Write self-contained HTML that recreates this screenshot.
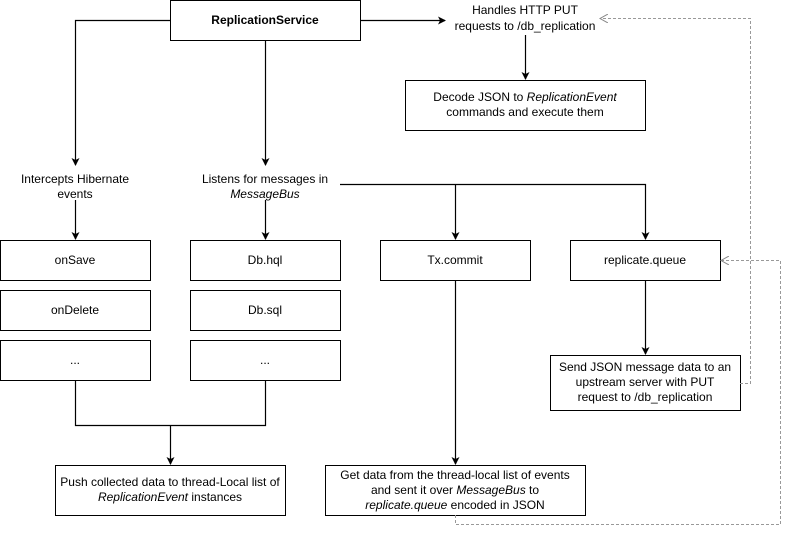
<!DOCTYPE html>
<html><head><style>
body{margin:0;background:#fff;}
svg{display:block;font-family:"Liberation Sans",sans-serif;font-size:12px;}
</style></head><body>
<svg width="790" height="537" viewBox="0 0 790 537">
<defs>
<marker id="a" markerWidth="8" markerHeight="8" refX="7" refY="4" orient="auto" markerUnits="userSpaceOnUse"><path d="M0,0 L8,4 L0,8 L2,4 Z" fill="#000"/></marker>
<marker id="d" markerWidth="9" markerHeight="9" refX="8" refY="4.5" orient="auto" markerUnits="userSpaceOnUse"><path d="M0,0 L8,4.5 L0,9" fill="none" stroke="#888"/></marker>
</defs>
<g fill="#fff" stroke="#000" stroke-width="1">
<rect x="170.5" y="0.5" width="190" height="40"/>
<rect x="405.5" y="80.5" width="240" height="50"/>
<rect x="0.5" y="240.5" width="150" height="40"/>
<rect x="0.5" y="290.5" width="150" height="40"/>
<rect x="0.5" y="340.5" width="150" height="40"/>
<rect x="190.5" y="240.5" width="150" height="40"/>
<rect x="190.5" y="290.5" width="150" height="40"/>
<rect x="190.5" y="340.5" width="150" height="40"/>
<rect x="380.5" y="240.5" width="150" height="40"/>
<rect x="570.5" y="240.5" width="150" height="40"/>
<rect x="550.5" y="355.5" width="190" height="55"/>
<rect x="55.5" y="465.5" width="230" height="50"/>
<rect x="325.5" y="465.5" width="260" height="50"/>
</g>
<g fill="none" stroke="#000" stroke-width="1.2">
<path d="M170,20.5 H75.5 V165" marker-end="url(#a)"/>
<path d="M265.5,40 V165" marker-end="url(#a)"/>
<path d="M360,20.5 H445" marker-end="url(#a)"/>
<path d="M525.5,35 V79" marker-end="url(#a)"/>
<path d="M75.5,200 V239" marker-end="url(#a)"/>
<path d="M265.5,200 V239" marker-end="url(#a)"/>
<path d="M340,184.5 H645.5 V239" marker-end="url(#a)"/>
<path d="M455.5,184.5 V239" marker-end="url(#a)"/>
<path d="M75.5,380 V425.5 H265.5 V380"/>
<path d="M170.5,425.5 V464" marker-end="url(#a)"/>
<path d="M455.5,280 V464" marker-end="url(#a)"/>
<path d="M645.5,280 V354" marker-end="url(#a)"/>
</g>
<g fill="none" stroke="#999" stroke-width="1" stroke-dasharray="3,2">
<path d="M740,383.5 H750.5 V18.5 H600" marker-end="url(#d)"/>
<path d="M455.5,515 V524.5 H780.5 V260.5 H721" marker-end="url(#d)"/>
</g>
<g text-anchor="middle" fill="#000">
<text x="265" y="24" font-weight="bold">ReplicationService</text>
<text x="525" y="14">Handles HTTP PUT</text>
<text x="525" y="30">requests to /db_replication</text>
<text x="525" y="101">Decode JSON to <tspan font-style="italic">ReplicationEvent</tspan></text>
<text x="525" y="116">commands and execute them</text>
<text x="75" y="183">Intercepts Hibernate</text>
<text x="75" y="198">events</text>
<text x="265" y="183">Listens for messages in</text>
<text x="265" y="198" font-style="italic">MessageBus</text>
<text x="75" y="264">onSave</text>
<text x="75" y="314">onDelete</text>
<text x="75" y="364">...</text>
<text x="265" y="264">Db.hql</text>
<text x="265" y="314">Db.sql</text>
<text x="265" y="364">...</text>
<text x="455" y="264">Tx.commit</text>
<text x="645" y="264">replicate.queue</text>
<text x="645" y="371">Send JSON message data to an</text>
<text x="645" y="386">upstream server with PUT</text>
<text x="645" y="401">request to /db_replication</text>
<text x="170" y="486">Push collected data to thread-Local list of</text>
<text x="170" y="501"><tspan font-style="italic">ReplicationEvent</tspan> instances</text>
<text x="455" y="479">Get data from the thread-local list of events</text>
<text x="455" y="494">and sent it over <tspan font-style="italic">MessageBus</tspan> to</text>
<text x="455" y="509"><tspan font-style="italic">replicate.queue</tspan> encoded in JSON</text>
</g>
</svg>
</body></html>
